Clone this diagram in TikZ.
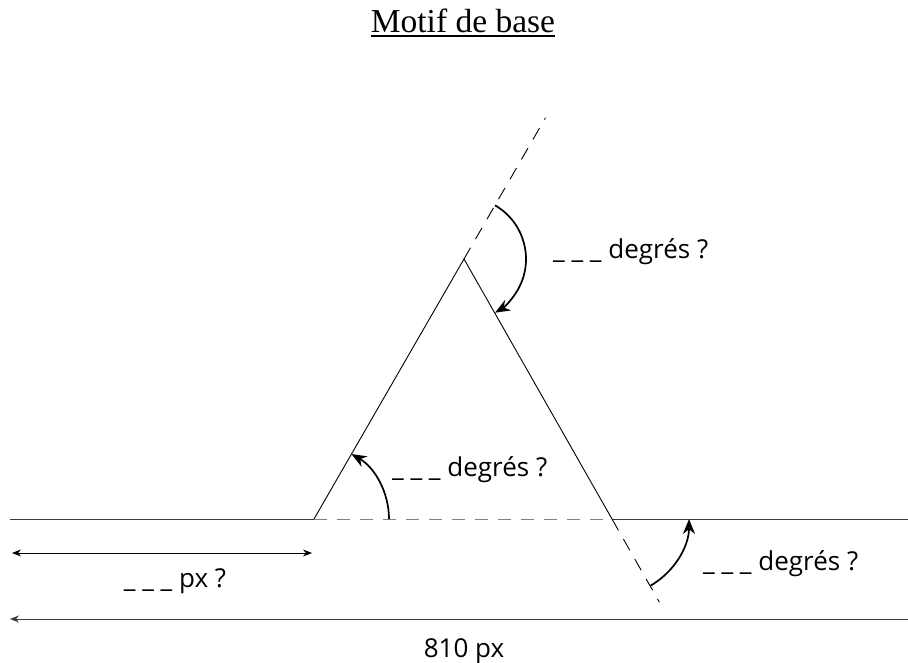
\documentclass[tikz,border=0pt]{standalone}
\usepackage{fontspec}
\setmainfont{Liberation Serif}
\setsansfont{Open Sans}
\usetikzlibrary{arrows.meta,calc,positioning}
\definecolor{linegray}{RGB}{60,60,60}
\definecolor{dashgray}{RGB}{130,130,130}
\tikzset{
  side/.style={line width=0.9pt},
  ext/.style={line width=0.9pt,dash pattern=on 13pt off 10pt},
  angarrow/.style={line width=1.7pt,-{Stealth[length=15pt,width=12pt]}},
  dimtip/.style={line width=0.9pt},
  lbl/.style={font=\sffamily\fontsize{26}{31}\selectfont,inner sep=0pt}
}

\begin{document}
\begin{tikzpicture}[x=1pt,y=1pt,>=Stealth]
  \useasboundingbox (0,0) rectangle (908,-663);
  % title
  \node[font=\fontsize{33.5}{40}\selectfont,inner sep=0pt,anchor=base] (title) at (463,-33) {Motif de base};
  \draw[line width=1.3pt] ($(title.base west)+(0,-3)$) -- ($(title.base east)+(0,-3)$);
  % base line and triangle
  \coordinate (L) at (10,-519); \coordinate (R) at (908,-519);
  \coordinate (A) at (314,-519); \coordinate (B) at (464,-259); \coordinate (C) at (612,-519);
  \coordinate (Btop) at ($(A)!1.543!(B)$);
  \coordinate (Cend) at ($(B)!1.32!(C)$);
  \draw[linegray,side] (L) -- (A);
  \draw[dashgray,ext] (A) -- (C);
  \draw[linegray,side] (C) -- (R);
  \draw[side] (A) -- (B) -- (C);
  \draw[ext] (B) -- (Btop);
  \draw[ext] (C) -- (Cend);
  % angles
  \draw[angarrow] ($(B)+(60:62)$) arc[start angle=60,end angle=-60,radius=62];
  \draw[angarrow] ($(A)+(0:75)$) arc[start angle=0,end angle=60,radius=75];
  \draw[angarrow] ($(C)+(-60:77)$) arc[start angle=-60,end angle=0,radius=77];
  \node[lbl,anchor=base west] (angtop) at (553,-259) {\_ \_ \_ degrés ?};
  \node[lbl,anchor=base west] (angmid) at (392,-476) {\_ \_ \_ degrés ?};
  \node[lbl,anchor=base west] (angbot) at (703,-570) {\_ \_ \_ degrés ?};
  % lengths
  \coordinate (D1) at (12,-553); \coordinate (D2) at (312,-553);
  \draw[dimtip,{Stealth[length=9pt,width=7pt]}-{Stealth[length=9pt,width=7pt]}] (D1) -- (D2);
  \node[lbl,anchor=base] (pxq) at (175,-587) {\_ \_ \_ px ?};
  \coordinate (T1) at (10,-619); \coordinate (T2) at (908,-619);
  \draw[dimtip,linegray,{Stealth[length=9pt,width=7pt]}-] (T1) -- (T2);
  \node[lbl,anchor=base] (total) at (464,-657) {810 px};
\end{tikzpicture}
\end{document}
